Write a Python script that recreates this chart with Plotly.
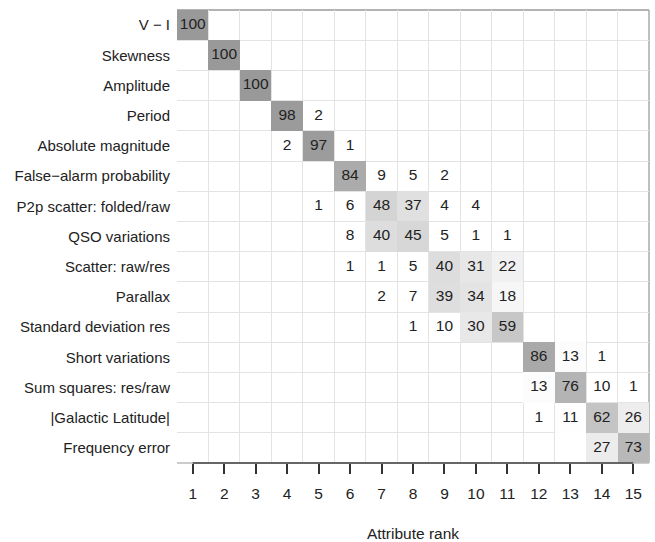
import plotly.graph_objects as go

attributes = [
    "V \u2212 I", "Skewness", "Amplitude", "Period", "Absolute magnitude",
    "False\u2212alarm probability", "P2p scatter: folded/raw", "QSO variations",
    "Scatter: raw/res", "Parallax", "Standard deviation res", "Short variations",
    "Sum squares: res/raw", "|Galactic Latitude|", "Frequency error",
]
ranks = list(range(1, 16))

# percentage of runs each attribute obtained a given rank: {rank: value}
counts = [
    {1: 100},
    {2: 100},
    {3: 100},
    {4: 98, 5: 2},
    {4: 2, 5: 97, 6: 1},
    {6: 84, 7: 9, 8: 5, 9: 2},
    {5: 1, 6: 6, 7: 48, 8: 37, 9: 4, 10: 4},
    {6: 8, 7: 40, 8: 45, 9: 5, 10: 1, 11: 1},
    {6: 1, 7: 1, 8: 5, 9: 40, 10: 31, 11: 22},
    {7: 2, 8: 7, 9: 39, 10: 34, 11: 18},
    {8: 1, 9: 10, 10: 30, 11: 59},
    {12: 86, 13: 13, 14: 1},
    {12: 13, 13: 76, 14: 10, 15: 1},
    {12: 1, 13: 11, 14: 62, 15: 26},
    {14: 27, 15: 73},
]

row_idx = list(range(1, len(attributes) + 1))

z = []
for row in counts:
    z.append([row[r] if (r in row and row[r] > 10) else None for r in ranks])

tx, ty, tt = [], [], []
for i, row in enumerate(counts):
    for r, v in row.items():
        tx.append(r)
        ty.append(row_idx[i])
        tt.append(str(v))

font_family = "Liberation Sans, Arial, Helvetica, sans-serif"

fig = go.Figure()
fig.add_trace(go.Heatmap(
    x=ranks, y=row_idx, z=z,
    zmin=10, zmax=100,
    colorscale=[[0, "#ffffff"], [1, "#999999"]],
    showscale=False, hoverinfo="skip", xgap=0, ygap=0,
))
fig.add_trace(go.Scatter(
    x=tx, y=ty, text=tt, mode="text",
    textfont=dict(family=font_family, size=15.5, color="#222222"),
    hoverinfo="skip", showlegend=False,
))

bounds = [r - 0.5 for r in ranks] + [ranks[-1] + 0.5]
ybounds = [r - 0.5 for r in row_idx] + [row_idx[-1] + 0.5]

fig.update_xaxes(
    range=[0.5, 15.5], tickvals=ranks, ticktext=[str(r) for r in ranks],
    showgrid=False, zeroline=False, automargin=False,
    showline=False,
    ticks="outside", ticklen=10, tickwidth=1.5, tickcolor="#333333",
    ticklabelstandoff=6,
    tickfont=dict(family=font_family, size=15.5, color="#222222"),
    minor=dict(tickvals=bounds, showgrid=True, gridcolor="#e3e3e3", gridwidth=1, ticks=""),
    title=dict(text="Attribute rank", font=dict(family=font_family, size=15.5, color="#222222"), standoff=30),
)
fig.update_yaxes(
    range=[15.5, 0.5], tickvals=row_idx, ticktext=attributes,
    showgrid=False, zeroline=False, showline=False, ticks="", automargin=False,
    ticklabelstandoff=6,
    tickfont=dict(family=font_family, size=15, color="#222222"),
    minor=dict(tickvals=ybounds, showgrid=True, gridcolor="#e3e3e3", gridwidth=1, ticks=""),
)

# light panel borders
fig.add_shape(type="line", xref="paper", yref="paper", x0=0, x1=1, y0=1, y1=1,
              line=dict(color="#9a9a9a", width=1.5), layer="below")
fig.add_shape(type="line", xref="paper", yref="paper", x0=1, x1=1, y0=0, y1=1,
              line=dict(color="#aaaaaa", width=1.5), layer="below")
fig.add_shape(type="line", xref="paper", yref="paper", x0=0, x1=1, y0=0, y1=0,
              line=dict(color="#bbbbbb", width=1.5), layer="above")
# dark axis line spanning the range of rank ticks
fig.add_shape(type="line", xref="x", yref="paper", x0=ranks[0], x1=ranks[-1], y0=0, y1=0,
              line=dict(color="#444444", width=1.5), layer="above")

fig.update_layout(
    width=655, height=542,
    margin=dict(l=177, r=6, t=10, b=79),
    plot_bgcolor="white", paper_bgcolor="white",
    showlegend=False,
)

fig.write_html("out.html", config={"displayModeBar": False},
               post_script="document.body.style.margin='0';document.body.style.overflow='hidden';")
